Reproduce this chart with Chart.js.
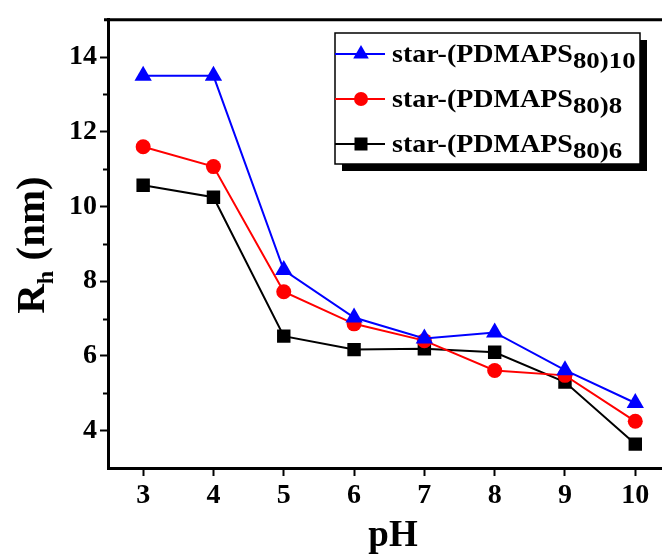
<!DOCTYPE html>
<html>
<head>
<meta charset="utf-8">
<script src="https://cdn.jsdelivr.net/npm/chart.js@4.4.1/dist/chart.umd.min.js"></script>
<style>
  html, body { margin: 0; padding: 0; background: #fff; overflow: hidden; }
</style>
</head>
<body>
<canvas id="rhChart" width="662" height="556"></canvas>
<script>
    // ===================================
    // DATA
    // ===================================
    const phValues = [3, 4, 5, 6, 7, 8, 9, 10];
    const rhStar10 = [13.5, 13.5, 8.3, 7.03, 6.47, 6.63, 5.62, 4.74];
    const rhStar8 = [11.6, 11.07, 7.72, 6.86, 6.41, 5.61, 5.48, 4.25];
    const rhStar6 = [10.57, 10.25, 6.53, 6.17, 6.19, 6.1, 5.3, 3.64];
    const yMajorTicks = [4, 6, 8, 10, 12, 14];
    const yMinorTicks = [5, 7, 9, 11, 13];
    const seriesNames = ['star-(PDMAPS', 'star-(PDMAPS', 'star-(PDMAPS'];
    const seriesSubs = ['80)10', '80)8', '80)6'];

    const serif = '"Liberation Serif", "Times New Roman", serif';
    const toPoints = ys => phValues.map((x, i) => ({ x: x, y: ys[i] }));

    const rhData = {
        datasets: [
            { label: 'star-(PDMAPS80)10', data: toPoints(rhStar10), borderColor: '#0000ff', backgroundColor: '#0000ff',
              pointStyle: 'triangle', pointRadius: 10 },
            { label: 'star-(PDMAPS80)8', data: toPoints(rhStar8), borderColor: '#ff0000', backgroundColor: '#ff0000',
              pointStyle: 'circle', pointRadius: 7.5 },
            { label: 'star-(PDMAPS80)6', data: toPoints(rhStar6), borderColor: '#000000', backgroundColor: '#000000',
              pointStyle: 'rect', pointRadius: 9.5 }
        ]
    };

    // minor ticks, top border, axis titles and the framed legend
    const decorPlugin = {
        id: 'decor',
        afterDraw(chart) {
            const ctx = chart.ctx;
            const area = chart.chartArea;
            const ys = chart.scales.y;
            ctx.save();
            ctx.strokeStyle = '#000';
            // minor ticks on y
            ctx.lineWidth = 2;
            yMinorTicks.forEach(v => {
                const py = Math.round(ys.getPixelForValue(v)) + 0.5;
                ctx.beginPath();
                ctx.moveTo(area.left - 5, py);
                ctx.lineTo(area.left, py);
                ctx.stroke();
            });
            // top border (the right edge of the frame is cut off in the source)
            ctx.lineWidth = 3;
            ctx.beginPath();
            ctx.moveTo(area.left - 4, area.top);
            ctx.lineTo(chart.width, area.top);
            ctx.stroke();

            // axis titles
            ctx.fillStyle = '#000';
            ctx.textBaseline = 'alphabetic';
            ctx.font = 'bold 37px ' + serif;
            ctx.textAlign = 'center';
            ctx.fillText('pH', 393, 546);

            ctx.translate(44, 245);
            ctx.rotate(-Math.PI / 2);
            ctx.textAlign = 'left';
            ctx.font = 'bold 41px ' + serif;
            const wR = ctx.measureText('R').width;
            const wRest = ctx.measureText(' (nm)').width;
            ctx.font = 'bold 24px ' + serif;
            const wh = ctx.measureText('h').width;
            const total = wR + wh + wRest;
            let tx = -total / 2;
            ctx.font = 'bold 41px ' + serif;
            ctx.fillText('R', tx, 0);
            tx += wR;
            ctx.font = 'bold 24px ' + serif;
            ctx.fillText('h', tx, 9);
            tx += wh;
            ctx.font = 'bold 41px ' + serif;
            ctx.fillText(' (nm)', tx, 0);
            ctx.restore();

            // legend box
            ctx.save();
            const bx = 335, by = 33, bw = 305, bh = 131;
            ctx.fillStyle = '#000';
            ctx.fillRect(bx + 7, by + 7, bw, bh);
            ctx.fillStyle = '#fff';
            ctx.fillRect(bx, by, bw, bh);
            ctx.strokeStyle = '#000';
            ctx.lineWidth = 1.5;
            ctx.strokeRect(bx, by, bw, bh);

            const rowsY = [54, 99, 144];
            chart.data.datasets.forEach((ds, i) => {
                const ry = rowsY[i];
                ctx.strokeStyle = ds.borderColor;
                ctx.lineWidth = 2;
                ctx.beginPath();
                ctx.moveTo(bx, ry);
                ctx.lineTo(bx + 50, ry);
                ctx.stroke();
                ctx.fillStyle = ds.backgroundColor;
                const mx = bx + 26;
                ctx.beginPath();
                if (ds.pointStyle === 'triangle') {
                    const r = 9;
                    ctx.moveTo(mx, ry - r);
                    ctx.lineTo(mx + r * 0.866, ry + r * 0.5);
                    ctx.lineTo(mx - r * 0.866, ry + r * 0.5);
                    ctx.closePath();
                } else if (ds.pointStyle === 'circle') {
                    ctx.arc(mx, ry, 7, 0, Math.PI * 2);
                } else {
                    ctx.rect(mx - 6.5, ry - 6.5, 13, 13);
                }
                ctx.fill();

                // label text, slightly stretched like the source
                ctx.save();
                ctx.fillStyle = '#000';
                ctx.translate(bx + 57, ry + 8);
                ctx.scale(1.12, 1);
                ctx.font = 'bold 25px ' + serif;
                ctx.textAlign = 'left';
                ctx.fillText(seriesNames[i], 0, 0);
                const w = ctx.measureText(seriesNames[i]).width;
                ctx.font = 'bold 24px ' + serif;
                ctx.fillText(seriesSubs[i], w, 6);
                ctx.restore();
            });
            ctx.restore();
        }
    };

    // ===================================
    // CHART CONFIG
    // ===================================
    const rhConfig = {
        type: 'line',
        data: rhData,
        options: {
            responsive: false,
            animation: false,
            layout: { autoPadding: false, padding: { left: 0, top: 17, right: 0, bottom: 0 } },
            elements: {
                line: { borderWidth: 2, tension: 0 },
                point: { borderWidth: 0, hoverRadius: 10 }
            },
            plugins: {
                legend: { display: false },
                tooltip: { enabled: false }
            },
            scales: {
                x: {
                    type: 'linear',
                    min: 2.5,
                    max: 10.38,
                    afterBuildTicks: scale => { scale.ticks = phValues.map(v => ({ value: v })); },
                    afterFit: scale => { scale.height = 88; scale.paddingRight = 0; },
                    grid: { drawOnChartArea: false, drawTicks: true, tickLength: 8, tickWidth: 2, tickColor: '#000' },
                    border: { display: true, color: '#000', width: 3 },
                    ticks: {
                        color: '#000',
                        padding: 3,
                        maxRotation: 0,
                        font: { family: serif, size: 28, weight: 'bold' }
                    }
                },
                y: {
                    min: 3,
                    max: 15,
                    afterBuildTicks: scale => { scale.ticks = yMajorTicks.map(v => ({ value: v })); },
                    afterFit: scale => { scale.width = 108; },
                    grid: { drawOnChartArea: false, drawTicks: true, tickLength: 8, tickWidth: 2, tickColor: '#000' },
                    border: { display: true, color: '#000', width: 3 },
                    ticks: {
                        color: '#000',
                        padding: 3,
                        font: { family: serif, size: 28, weight: 'bold' }
                    }
                }
            }
        },
        plugins: [decorPlugin]
    };

    // --- Render Chart ---
    const ctxRh = document.getElementById('rhChart').getContext('2d');
    new Chart(ctxRh, rhConfig);
</script>
</body>
</html>
